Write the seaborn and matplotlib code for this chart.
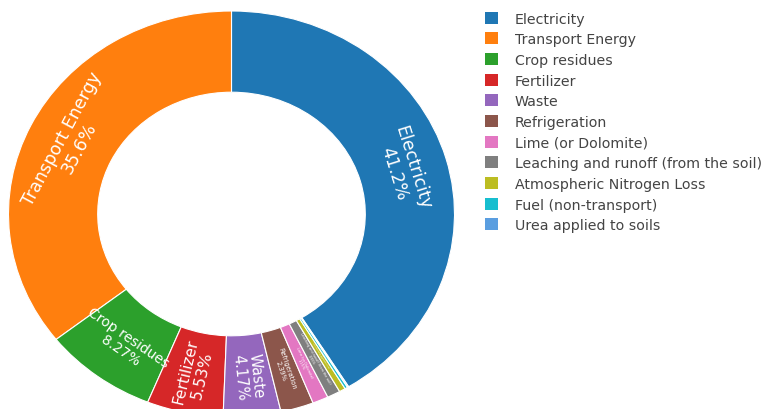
import matplotlib
matplotlib.use("Agg")
import matplotlib.pyplot as plt
import seaborn as sns
import numpy as np

categories = ["Electricity", "Transport Energy", "Crop residues", "Fertilizer", "Waste",
              "Refrigeration", "Lime (or Dolomite)", "Leaching and runoff (from the soil)",
              "Atmospheric Nitrogen Loss", "Fuel (non-transport)", "Urea applied to soils"]
values = [41.2, 35.6, 8.27, 5.53, 4.17, 2.39, 1.15, 0.95, 0.45, 0.20, 0.09]

sns.set_theme(style="white")
plt.rcParams['font.family'] = ['DejaVu Sans']

colors = list(sns.color_palette("tab10", 10)) + ["#5a9ee0"]

# label styling (orientation & font size per slice)
orient = ["tan", "tan", "tan", "rad", "rad", "rad", "rad", "rad", "rad", "rad", "rad"]
fsizes = [12.5, 12.5, 10, 11, 10.5, 4.8, 2.6, 2.4, 1.6, 0.9, 0.5]

W, H = 772, 410
fig = plt.figure(figsize=(W / 100, H / 100), dpi=100)
cx, cy, Rx, Ry = 231.5, 215, 223, 203
ax = fig.add_axes([(cx - Rx) / W, (H - cy - Ry) / H, 2 * Rx / W, 2 * Ry / H])

total = sum(values)
start = 90 - 360 * values[0] / total
hole = 0.6
wedges, _ = ax.pie(values, colors=colors, startangle=start, counterclock=True,
                   radius=1.0, wedgeprops=dict(width=1 - hole, edgecolor="white", linewidth=0.8))
ax.set_xlim(-1, 1)
ax.set_ylim(-1, 1)
ax.set_aspect("auto")
ax.axis("off")

def norm(a):
    a = (a + 180) % 360 - 180
    if a > 90:
        a -= 180
    elif a < -90:
        a += 180
    return a

rmid = (1 + hole) / 2
for w, lab, v, o, fs in zip(wedges, categories, values, orient, fsizes):
    mid = np.radians((w.theta1 + w.theta2) / 2)
    x = rmid * np.cos(mid)
    y = rmid * np.sin(mid)
    if o == "tan":
        rot = np.degrees(np.arctan2(-Ry * np.cos(mid), Rx * np.sin(mid)))
    else:
        rot = np.degrees(np.arctan2(Ry * np.sin(mid), Rx * np.cos(mid)))
    rot = norm(rot)
    pct = f"{100 * v / total:.3g}%"
    ax.text(x, y, f"{lab}\n{pct}", rotation=rot, rotation_mode="anchor",
            ha="center", va="center", color="white", fontsize=fs,
            linespacing=1.1, multialignment="center")

fig.legend(handles=wedges, labels=categories, loc="upper left",
           bbox_to_anchor=(479 / W, 1 - 7 / H), frameon=False,
           fontsize=10.2, labelcolor="#444444", handlelength=0.92, handleheight=0.92,
           handletextpad=1.2, labelspacing=0.47, borderaxespad=0)
for h in fig.legends[0].legend_handles:
    h.set_edgecolor("none")

fig.savefig("out.png", dpi=100, facecolor="white")
